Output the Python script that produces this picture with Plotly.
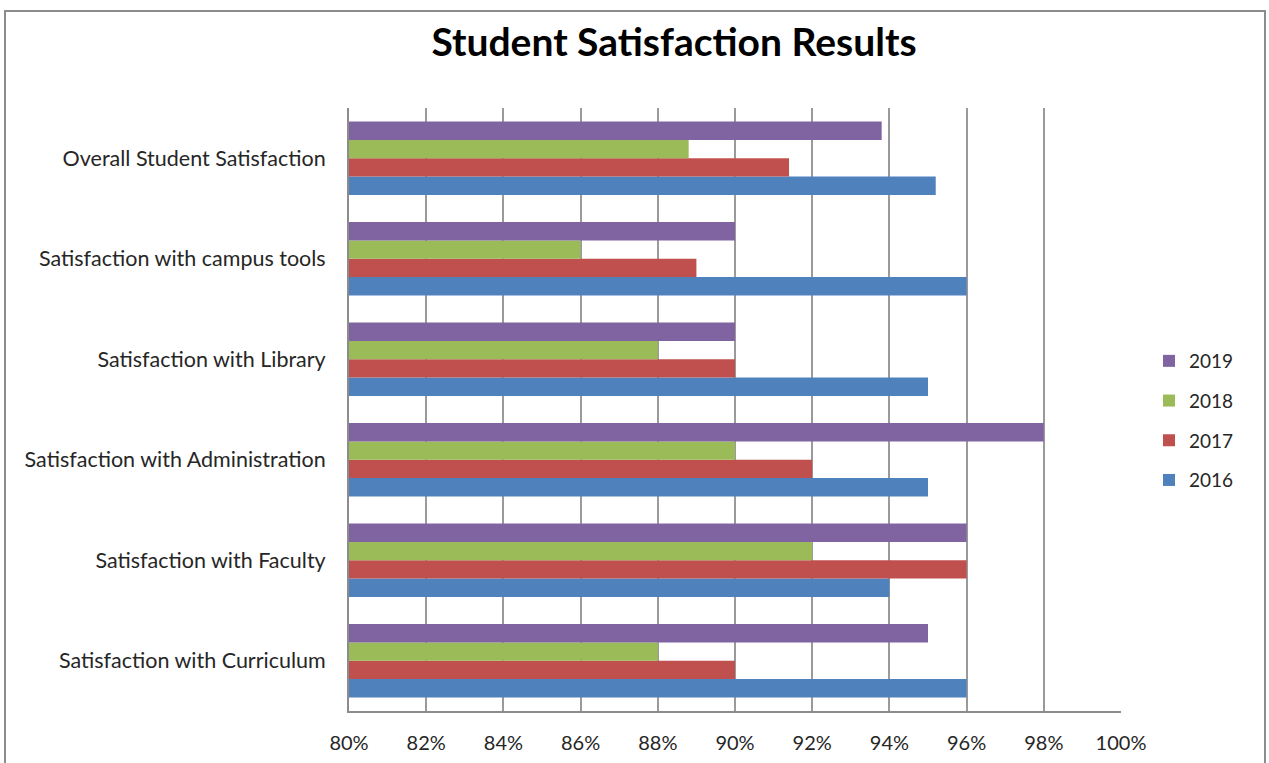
import plotly.graph_objects as go

categories = ["Satisfaction with Curriculum", "Satisfaction with Faculty",
              "Satisfaction with Administration", "Satisfaction with Library",
              "Satisfaction with campus tools", "Overall Student Satisfaction"]
years = ["2016", "2017", "2018", "2019"]
v2016 = [0.96, 0.94, 0.95, 0.95, 0.96, 0.952]
v2017 = [0.90, 0.96, 0.92, 0.90, 0.89, 0.914]
v2018 = [0.88, 0.92, 0.90, 0.88, 0.86, 0.888]
v2019 = [0.95, 0.96, 0.98, 0.90, 0.90, 0.938]
colors = ["#4F81BD", "#C0504D", "#9BBB59", "#8064A2"]
xticks = [0.80, 0.82, 0.84, 0.86, 0.88, 0.90, 0.92, 0.94, 0.96, 0.98, 1.00]

W, H = 1269, 763
ml, mr, mt, mb = 349, 148, 108, 52

fig = go.Figure()
for i, (name, vals, col) in enumerate(zip(years, [v2016, v2017, v2018, v2019], colors)):
    fig.add_trace(go.Bar(y=categories, x=vals, name=name, orientation="h",
                         marker=dict(color=col, line=dict(width=0)),
                         legendgroup=name, legendrank=1000 - i))

pw = W - ml - mr
ph = H - mt - mb
def px2x(p):
    return (p - ml) / pw
def py2y(p):
    return (H - mb - p) / ph

fig.add_shape(type="rect", xref="paper", yref="paper",
              x0=px2x(5), x1=px2x(1265), y0=py2y(790), y1=py2y(11),
              line=dict(color="#8c8c8c", width=2), fillcolor="rgba(0,0,0,0)",
              layer="below")

fig.update_layout(
    width=W, height=H,
    margin=dict(l=ml, r=mr, t=mt, b=mb, autoexpand=False),
    paper_bgcolor="white", plot_bgcolor="white",
    barmode="group", bargap=0.27, bargroupgap=0,
    title=dict(text="<b>Student Satisfaction Results</b>", x=(432 + 916) / 2 / W,
               xanchor="center", y=1 - 42 / H, yanchor="middle",
               font=dict(family="Lato", size=39, color="black")),
    font=dict(family="Lato", color="#262626"),
    xaxis=dict(range=[0.80, 1.00], tickvals=xticks, tickformat=".0%",
               showgrid=True, gridcolor="#9a9a9a", gridwidth=2,
               showline=True, linecolor="#8c8c8c", linewidth=2,
               ticks="", ticklabelstandoff=13, zeroline=False, automargin=False,
               tickfont=dict(size=20, color="#262626")),
    yaxis=dict(showline=True, linecolor="#8c8c8c", linewidth=2,
               ticks="", ticklabelstandoff=17, showgrid=False, automargin=False,
               tickfont=dict(size=21.5, color="#262626")),
    legend=dict(x=px2x(1149), xanchor="left", y=py2y(342), yanchor="top",
                traceorder="grouped", tracegroupgap=12,
                font=dict(size=19, color="#262626"), itemwidth=30),
    showlegend=True,
)

fig.write_html("out.html", config={"displayModeBar": False},
               post_script="document.body.style.margin='0';")
